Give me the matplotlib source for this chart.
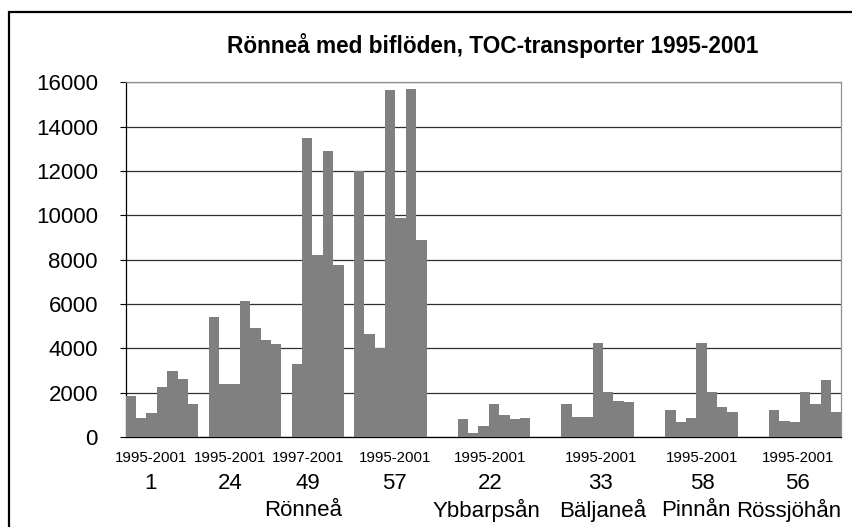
import matplotlib
matplotlib.use("Agg")
import matplotlib.pyplot as plt
from matplotlib.patches import Rectangle
from matplotlib.transforms import blended_transform_factory

plt.rcParams['font.family'] = ['Liberation Sans', 'DejaVu Sans']

# station numbers, periods and river names
stations = ['1', '24', '49', '57', '22', '33', '58', '56']
periods = ['1995-2001', '1995-2001', '1997-2001', '1995-2001',
           '1995-2001', '1995-2001', '1995-2001', '1995-2001']
rivers = ['Rönneå', 'Ybbarpsån', 'Bäljaneå', 'Pinnån', 'Rössjöhån']

# TOC transport per year
st1 = [1850, 860, 1100, 2260, 2980, 2620, 1500]
st24 = [5420, 2410, 2410, 6140, 4920, 4380, 4200]
st49 = [3300, 13500, 8220, 12910, 7770]
st57 = [11980, 4650, 4020, 15670, 9890, 15710, 8890]
st22 = [830, 200, 510, 1500, 1010, 830, 870]
st33 = [1500, 920, 920, 4260, 2020, 1640, 1590]
st58 = [1230, 690, 870, 4260, 2020, 1370, 1140]
st56 = [1230, 740, 690, 2020, 1500, 2590, 1140]
groups = [st1, st24, st49, st57, st22, st33, st58, st56]
# empty category slots before each group
gaps = [0, 1, 1, 1, 3, 3, 3, 3]

# label centres on the category axis
period_x = [1.9, 9.6, 17.05, 25.45, 34.6, 45.3, 55.05, 64.3]
station_x = [1.85, 9.55, 17.05, 25.45, 34.6, 45.3, 55.05, 64.3]
river_x = [16.6, 34.3, 45.5, 54.5, 63.45]

xs, ys = [], []
pos = 0
for g, vals in zip(gaps, groups):
    pos += g
    for v in vals:
        xs.append(pos)
        ys.append(v)
        pos += 1

fig = plt.figure(figsize=(8.53, 5.27), dpi=100)
ax = fig.add_axes([0.1474, 0.1708, 0.8391, 0.6730])

ax.bar(xs, ys, width=1.0, color='#808080', edgecolor='none', zorder=3)

ax.set_xlim(-0.5, pos - 0.5)
ax.set_ylim(0, 16000)
ax.set_yticks(range(0, 16001, 2000))
ax.set_xticks([])
ax.yaxis.grid(True, color='#303030', linewidth=0.9, zorder=1)
ax.set_axisbelow(True)
ax.tick_params(axis='y', direction='out', length=4.5, width=0.8,
               labelsize=16, pad=15.5)
for s in ['top', 'right']:
    ax.spines[s].set_color('#909090')
    ax.spines[s].set_linewidth(0.9)
for s in ['left', 'bottom']:
    ax.spines[s].set_color('black')
    ax.spines[s].set_linewidth(0.9)

fig.text(0.578, 0.914, 'Rönneå med biflöden, TOC-transporter 1995-2001',
         ha='center', va='center', fontsize=16.3, fontweight='bold')

tr = blended_transform_factory(ax.transData, fig.transFigure)
for x, t in zip(period_x, periods):
    ax.text(x, 0.131, t, transform=tr, ha='center', va='center', fontsize=10.8)
for x, t in zip(station_x, stations):
    ax.text(x, 0.083, t, transform=tr, ha='center', va='center', fontsize=16)
for x, t in zip(river_x, rivers):
    ax.text(x, 0.032, t, transform=tr, ha='center', va='center', fontsize=16)

# outer chart frame (cut off at right and bottom)
fig.patches.append(Rectangle((9 / 853, -0.05), 1.2, 1.05 - 12 / 527,
                             transform=fig.transFigure, fill=False,
                             edgecolor='black', linewidth=1.6))

fig.savefig('out.png', dpi=100)
